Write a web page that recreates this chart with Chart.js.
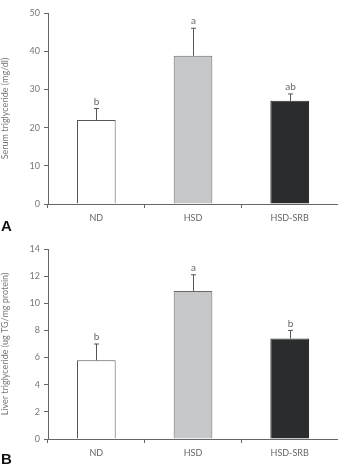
<!DOCTYPE html>
<html>
<head>
    <meta charset="utf-8"/>
    <title></title>
    <script src="https://cdn.jsdelivr.net/npm/chart.js"></script>
    <style>
        body { margin: 0; width: 338px; height: 465px; position: relative; background: #fff; overflow: hidden; font-family: "Lato", sans-serif; }
        .panel { position: absolute; left: 0; width: 338px; }
        .tag { position: absolute; left: 1px; font: bold 15px "Liberation Sans", sans-serif; color: #111; }
    </style>
</head>
<body>
    <div class="panel" style="top:0;height:232px"><canvas id="serumChart"></canvas></div>
    <div class="panel" style="top:235px;height:230px"><canvas id="liverChart"></canvas></div>
    <div class="tag" style="top:217px">A</div>
    <div class="tag" style="top:450px">B</div>

    <script type="text/javascript">
      // groups on the x axis
      const groups = ['ND', 'HSD', 'HSD-SRB'];

      // panel A: serum triglyceride (mg/dl)
      const serumMeans = [22, 38.8, 27];
      const serumErrors = [3, 7.2, 1.8];
      const serumLetters = ['b', 'a', 'ab'];

      // panel B: liver triglyceride (ug TG/mg protein)
      const liverMeans = [5.8, 10.9, 7.4];
      const liverErrors = [1.2, 1.2, 0.6];
      const liverLetters = ['b', 'a', 'b'];

      const barFills = ['#ffffff', '#c6c7c8', '#2b2c2e'];
      const barBorders = ['#555555', '#6a6a6a', '#2b2c2e'];

      // draws the upper error whisker and the significance letter over each bar
      const errorBarPlugin = {
        id: 'errorBars',
        afterDatasetsDraw(chart, args, opts) {
          const ctx = chart.ctx;
          const yScale = chart.scales.y;
          const meta = chart.getDatasetMeta(0);
          const means = chart.data.datasets[0].data;
          ctx.save();
          ctx.strokeStyle = '#555';
          ctx.lineWidth = 1;
          meta.data.forEach(function(bar, i) {
            const x = Math.round(bar.x) + 0.5;
            const yTop = yScale.getPixelForValue(means[i]);
            const yErr = yScale.getPixelForValue(means[i] + opts.errors[i]);
            ctx.beginPath();
            ctx.moveTo(x, yTop);
            ctx.lineTo(x, yErr);
            ctx.moveTo(x - 2.5, yErr);
            ctx.lineTo(x + 2.5, yErr);
            ctx.stroke();
            ctx.fillStyle = '#666';
            ctx.font = '10px "Lato", sans-serif';
            ctx.textAlign = 'center';
            ctx.textBaseline = 'bottom';
            ctx.fillText(opts.letters[i], x, yErr - 2);
          });
          ctx.restore();
        }
      };

      function makeChart(id, means, errors, letters, yMax, yStep, yTitle, padTop, xHeight) {
        const ctx = document.getElementById(id).getContext('2d');
        return new Chart(ctx, {
          type: 'bar',
          data: {
            labels: groups,
            datasets: [{
              data: means,
              backgroundColor: barFills,
              borderColor: barBorders,
              borderWidth: 1,
              categoryPercentage: 1,
              barPercentage: 0.4
            }]
          },
          options: {
            responsive: true,
            maintainAspectRatio: false,
            animation: false,
            events: [],
            layout: { padding: { top: padTop, right: 0, left: 0, bottom: 0 } },
            plugins: {
              legend: { display: false },
              tooltip: { enabled: false },
              errorBars: { errors: errors, letters: letters }
            },
            scales: {
              x: {
                afterFit: function(scale) { scale.height = xHeight; },
                border: { color: '#666', width: 1 },
                grid: { display: true, offset: true, drawOnChartArea: false, drawTicks: true, tickLength: 4, color: '#666' },
                ticks: { color: '#666', font: { family: 'Lato', size: 9 }, padding: 5 }
              },
              y: {
                min: 0,
                max: yMax,
                afterFit: function(scale) { scale.width = 48; },
                border: { color: '#666', width: 1 },
                grid: { display: true, drawOnChartArea: false, drawTicks: true, tickLength: 4, color: '#666' },
                ticks: { stepSize: yStep, color: '#777', font: { family: 'Lato', size: 9 }, padding: 4 },
                title: { display: true, text: yTitle, color: '#777', font: { family: 'Lato', size: 9 }, padding: 0 }
              }
            }
          },
          plugins: [errorBarPlugin]
        });
      }

      makeChart('serumChart', serumMeans, serumErrors, serumLetters, 50, 10,
                'Serum triglyceride (mg/dl)', 13, 28);
      makeChart('liverChart', liverMeans, liverErrors, liverLetters, 14, 2,
                'Liver triglyceride (ug TG/mg protein)', 14, 26);
    </script>
</body>
</html>
